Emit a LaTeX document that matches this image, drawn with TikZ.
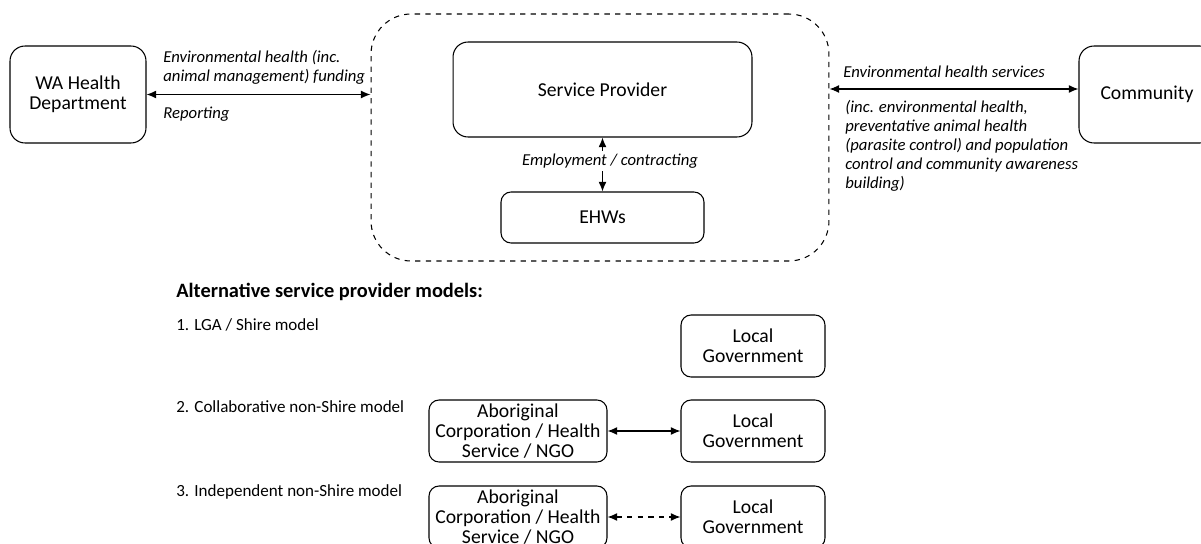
\documentclass[tikz,border=0pt]{standalone}
\usepackage{fontspec}
\setmainfont{Carlito}
\usetikzlibrary{arrows.meta}

\begin{document}
\begin{tikzpicture}[
    x=0.02cm, y=-0.02cm,
    box/.style={rectangle, draw, line width=0.6pt, rounded corners=0.3cm, align=center, font=\fontsize{11.2}{11.4}\selectfont},
    smallbox/.style={box, rounded corners=0.2cm, minimum width=2.88cm, minimum height=1.24cm, inner sep=1pt},
    lbl/.style={anchor=west, align=left, inner sep=0pt, font=\fontsize{9.5}{10.8}\selectfont\itshape},
    model/.style={anchor=west, inner sep=0pt, font=\fontsize{9.7}{10}\selectfont},
    twoway/.style={{Latex[length=5.5pt,width=4.5pt]}-{Latex[length=5.5pt,width=4.5pt]}, line width=0.6pt}
]
    \useasboundingbox (0,0) rectangle (1201,544);

    % Top row
    \node[box, minimum width=2.72cm, minimum height=1.94cm] (wa) at (78,94.5) {WA Health\\Department};
    \node[rectangle, draw, dashed, line width=0.6pt, rounded corners=0.8cm, minimum width=9.16cm, minimum height=4.94cm] (outer) at (600,137.5) {};
    \node[box, minimum width=5.98cm, minimum height=1.9cm] (sp) at (602.5,89.5) {Service Provider};
    \node[box, rounded corners=0.2cm, minimum width=4.06cm, minimum height=1.02cm] (ehw) at (602.5,217.5) {EHWs};
    \node[box, minimum width=2.72cm, minimum height=1.94cm] (comm) at (1147,94.5) {Community};

    \draw[twoway] (wa.east) -- (wa.east -| outer.west);
    \draw[twoway] ([yshift=0.11cm]comm.west -| outer.east) -- ([yshift=0.11cm]comm.west);
    \draw[twoway] (sp.south) -- (ehw.north);

    \node[lbl] (fund) at (163,67.5) {Environmental health (inc.\\animal management) funding};
    \node[lbl] (rep) at (163,114) {Reporting};
    \node[lbl] (serv) at (843,72) {Environmental health services};
    \node[lbl] (servinc) at (845,145.5) {(inc. environmental health,\\preventative animal health\\(parasite control) and population\\control and community awareness\\building)};
    \node[lbl, anchor=center, fill=white, inner sep=1.5pt] (emp) at (610,161) {Employment / contracting};

    % Alternative models
    \node[anchor=west, inner sep=0pt, font=\fontsize{11.6}{12}\selectfont\bfseries] (alt) at (176,292) {Alternative service provider models:};
    \node[model] (m1) at (176,325) {1. LGA / Shire model};
    \node[model] (m2) at (176,407) {2. Collaborative non-Shire model};
    \node[model] (m3) at (176,492) {3. Independent non-Shire model};

    \node[smallbox] (lg1) at (753,346) {Local\\Government};
    \node[smallbox] (lg2) at (753,431) {Local\\Government};
    \node[smallbox] (lg3) at (753,517) {Local\\Government};
    \node[smallbox, minimum width=3.56cm] (ab2) at (518,431) {Aboriginal\\Corporation / Health\\Service / NGO};
    \node[smallbox, minimum width=3.56cm] (ab3) at (518,517) {Aboriginal\\Corporation / Health\\Service / NGO};

    \draw[twoway] (ab2.east) -- (lg2.west);
    \draw[twoway, dashed] (ab3.east) -- (lg3.west);

\end{tikzpicture}
\end{document}
